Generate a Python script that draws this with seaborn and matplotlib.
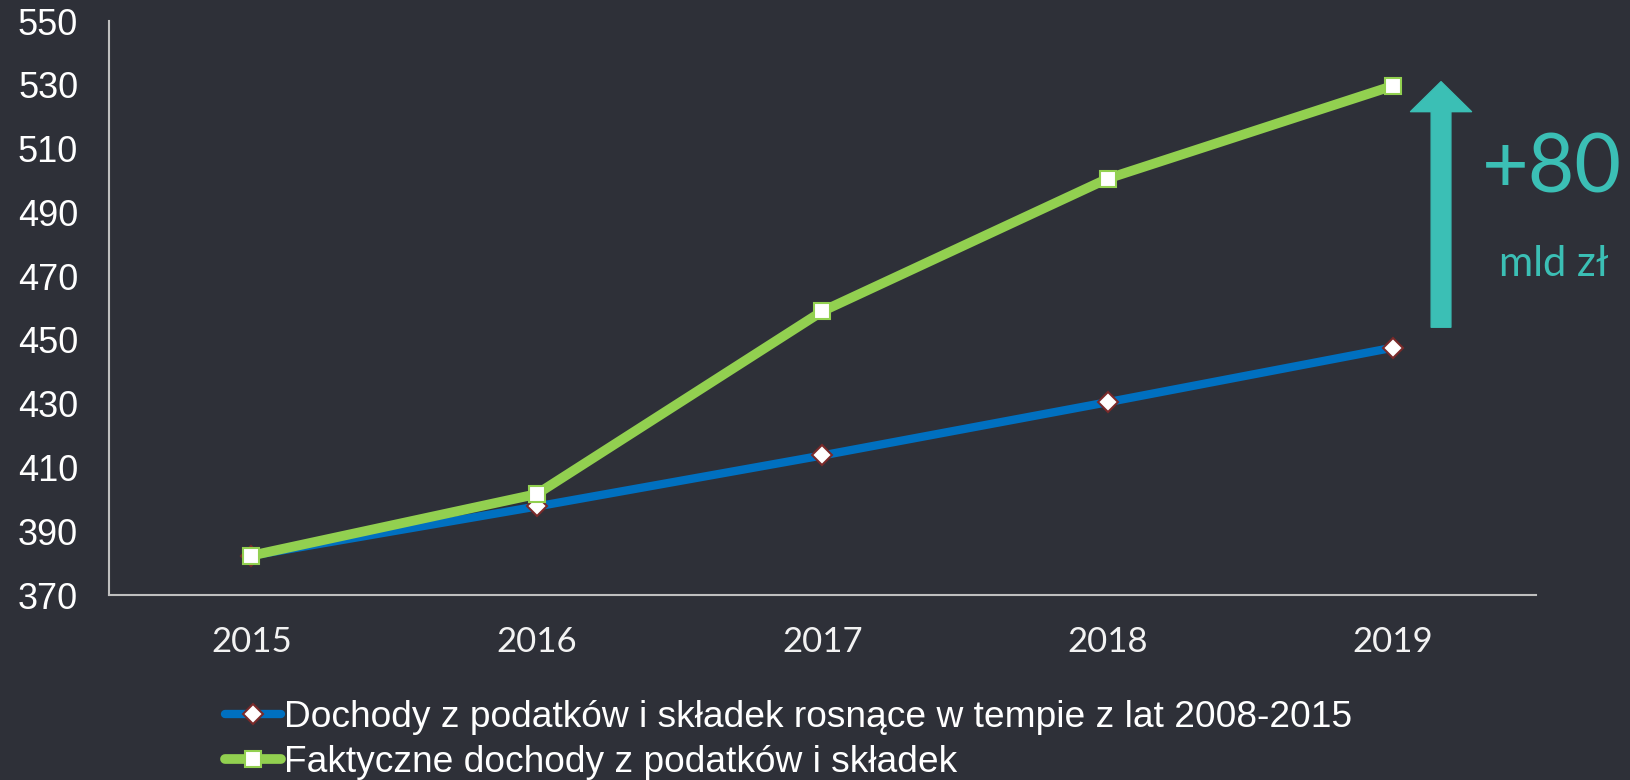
import pandas as pd
import matplotlib.pyplot as plt
import seaborn as sns

# dane (mld zł)
lata = ['2015', '2016', '2017', '2018', '2019']
trend_2008_2015 = [382.4, 397.8, 413.8, 430.5, 447.6]
faktyczne = [382.4, 401.7, 459.0, 500.6, 529.7]
y_ticks = [370, 390, 410, 430, 450, 470, 490, 510, 530, 550]

etykieta_trend = 'Dochody z podatków i składek rosnące w tempie z lat 2008-2015'
etykieta_fakt = 'Faktyczne dochody z podatków i składek'

bg = '#2E3038'
niebieski = '#0070C0'
zielony = '#92D050'
turkus = '#3BBFB5'

sns.set_theme(style='white')
plt.rcParams['font.family'] = ['Liberation Sans', 'DejaVu Sans']

df = pd.DataFrame({'poz': range(len(lata)), 'trend': trend_2008_2015, 'fakt': faktyczne})

fig = plt.figure(figsize=(16.3, 7.8), dpi=100, facecolor=bg)
ax = fig.add_axes([0.0667, 0.237, 0.8755, 0.736])
ax.set_facecolor(bg)

sns.lineplot(data=df, x='poz', y='trend', ax=ax, color=niebieski, linewidth=6,
             marker='D', markersize=10, markerfacecolor='white',
             markeredgecolor='#7A2A2A', markeredgewidth=1.5, label=etykieta_trend)
sns.lineplot(data=df, x='poz', y='fakt', ax=ax, color=zielony, linewidth=7,
             marker='s', markersize=11.5, markerfacecolor='white',
             markeredgecolor=zielony, markeredgewidth=1.5, label=etykieta_fakt)

ax.set_xlim(-0.5, 4.5)
ax.set_ylim(370, 550)
ax.set_xticks(range(len(lata)))
ax.set_xticklabels(lata, family=['Lato', 'DejaVu Sans'], fontsize=25, color='#F2F2F2')
ax.set_yticks(y_ticks)
ax.set_yticklabels([str(v) for v in y_ticks], fontsize=26, color='white')
ax.tick_params(axis='x', length=0, pad=22)
ax.tick_params(axis='y', length=0, pad=22)
ax.set_xlabel('')
ax.set_ylabel('')
for s in ['top', 'right']:
    ax.spines[s].set_visible(False)
for s in ['left', 'bottom']:
    ax.spines[s].set_color('#BFBFBF')
    ax.spines[s].set_linewidth(1.5)

# strzałka +80
ax.annotate('', xy=(4.168, 531), xytext=(4.168, 454), annotation_clip=False,
            arrowprops=dict(arrowstyle='simple,head_length=21.6,head_width=43.9,tail_width=14.2',
                            mutation_scale=1, color=turkus, shrinkA=0, shrinkB=0))
fig.text(0.952, 0.783, '+80', color=turkus, fontsize=58, ha='center', va='center',
         family=['Lato', 'DejaVu Sans'])
fig.text(0.953, 0.662, 'mld zł', color=turkus, fontsize=30, ha='center', va='center',
         family=['Lato', 'DejaVu Sans'])

ax.get_legend().remove()
h, l = ax.get_legend_handles_labels()
fig.legend(h, l, loc='upper left', bbox_to_anchor=(0.138, 0.103), frameon=False,
           fontsize=26.7, labelcolor='white', handlelength=1.5, handletextpad=0.1,
           labelspacing=0.28, borderpad=0, borderaxespad=0)

fig.savefig('out.png', dpi=100, facecolor=bg)
